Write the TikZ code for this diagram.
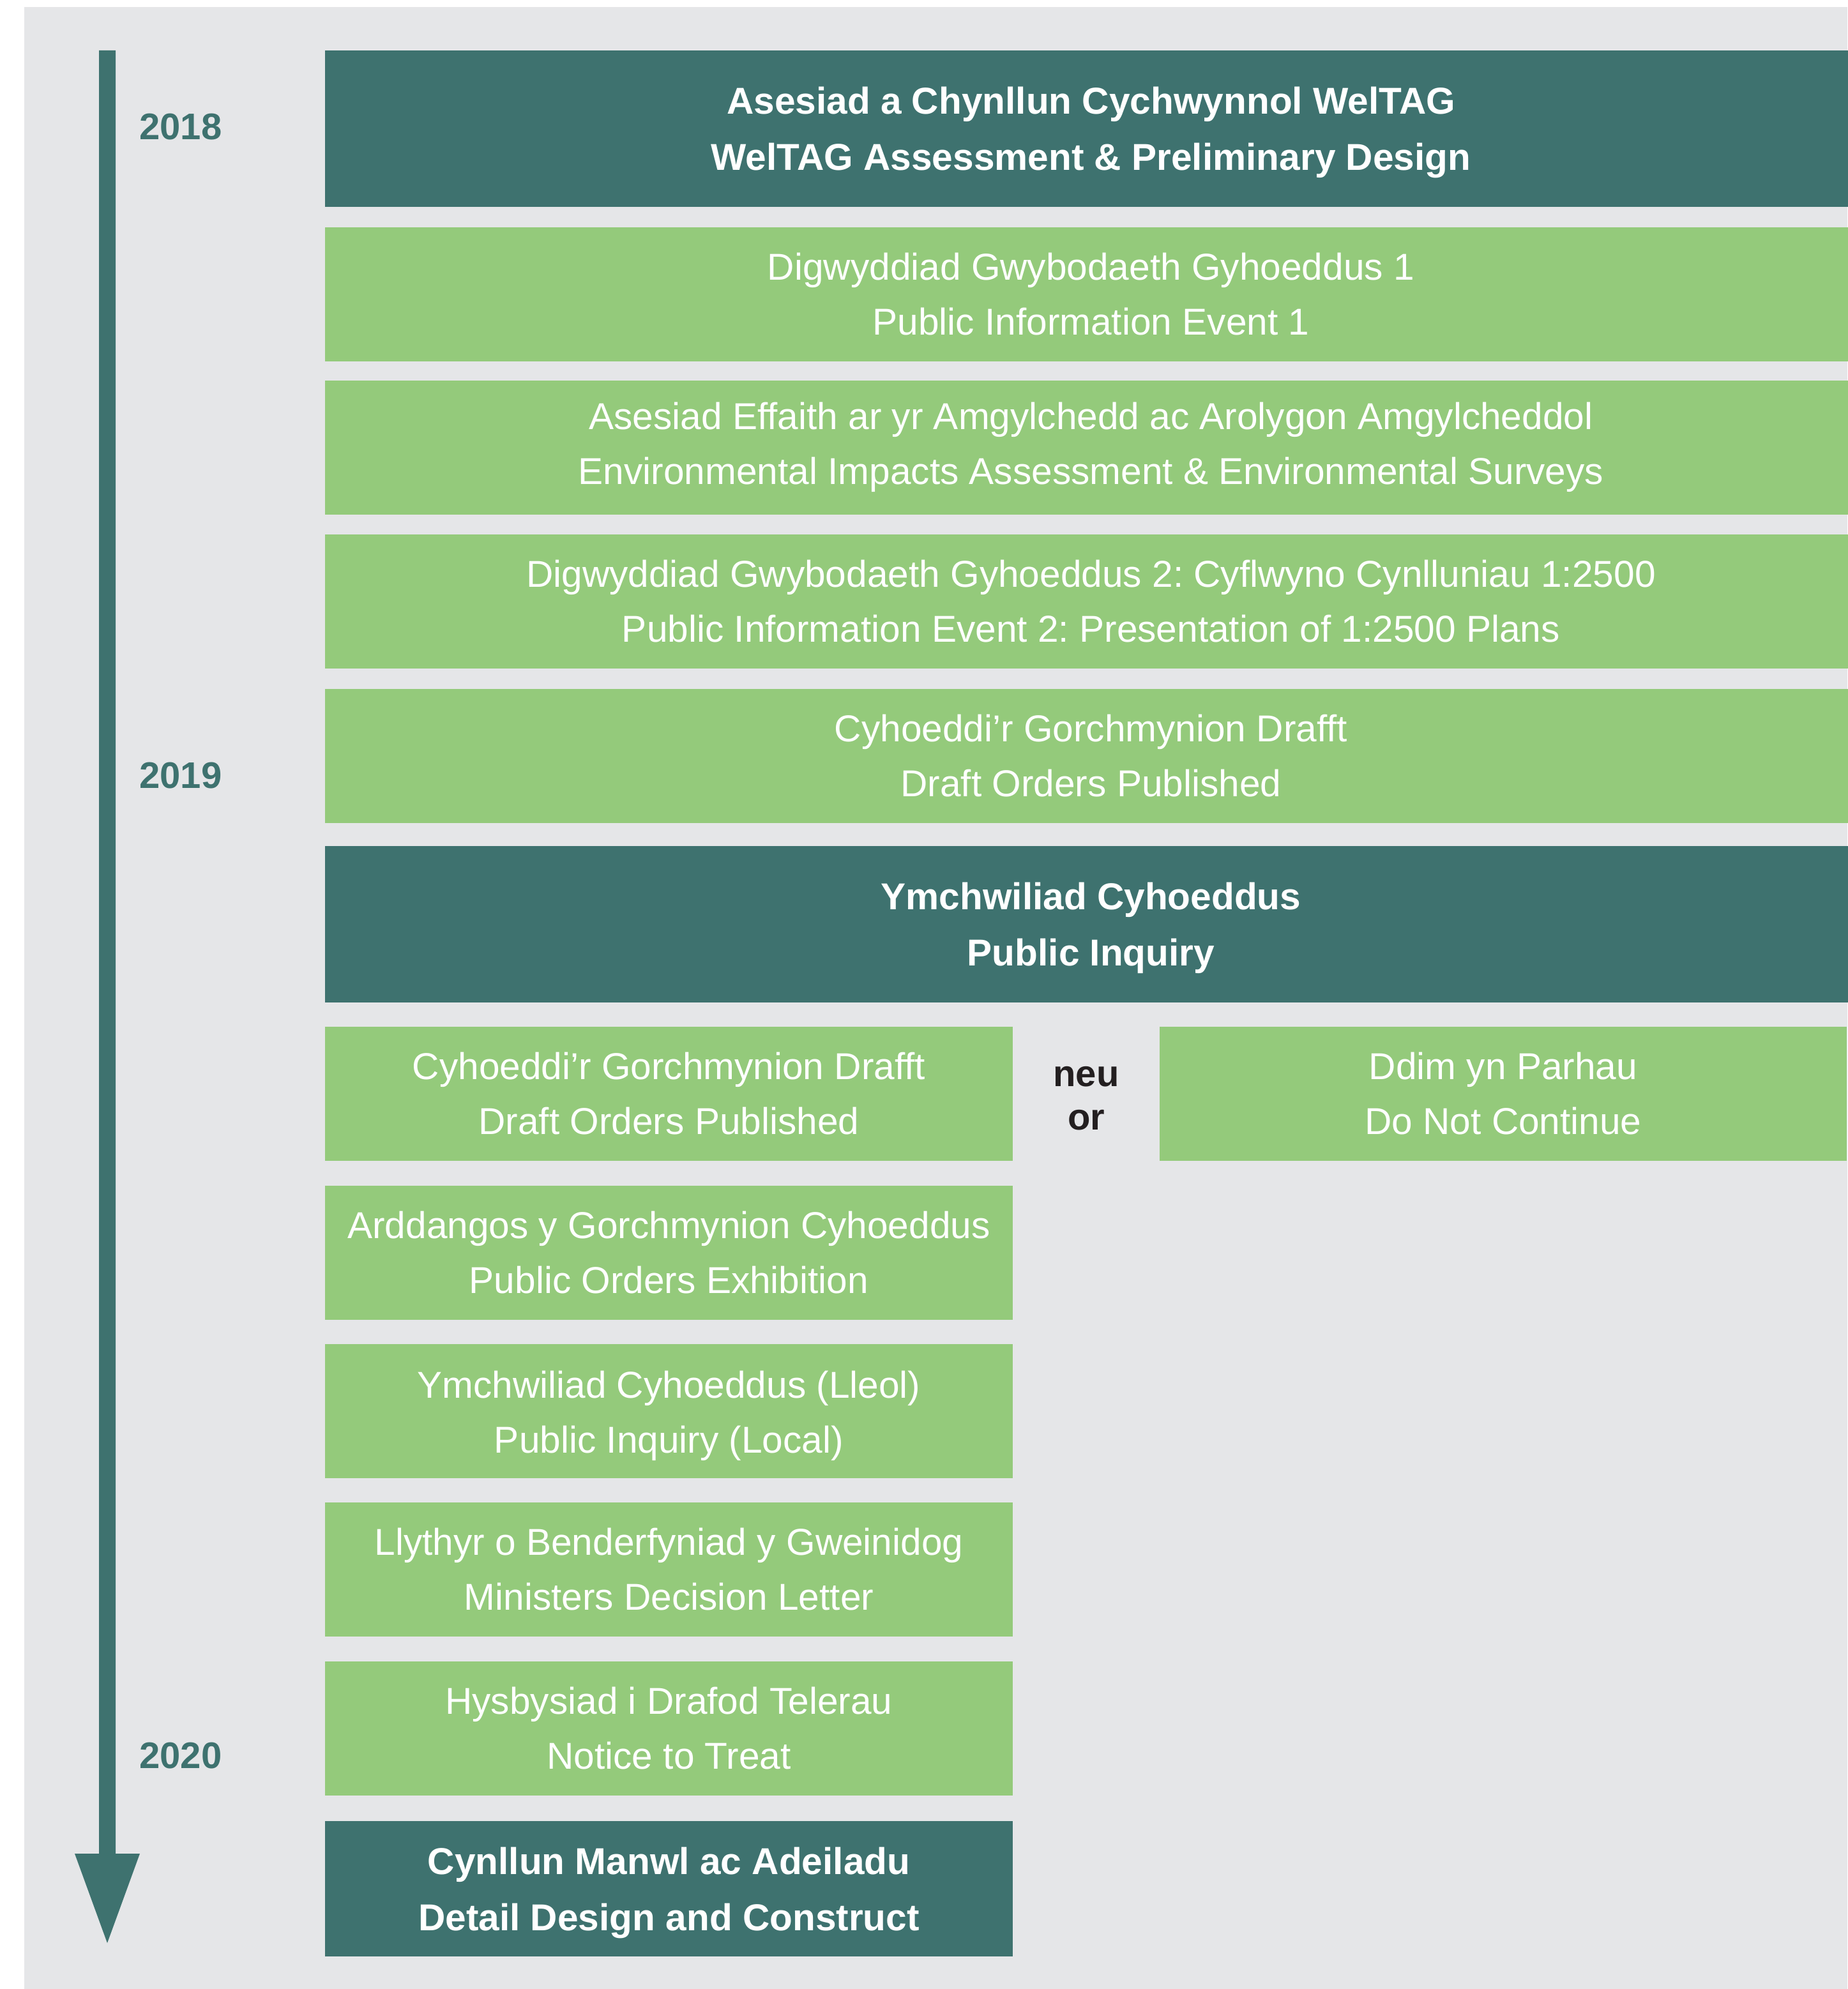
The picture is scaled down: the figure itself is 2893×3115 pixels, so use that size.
\documentclass[tikz,border=0pt]{standalone}
\usepackage{fontspec}
\setmainfont{Liberation Sans}
\frenchspacing
\definecolor{cdark}{RGB}{62,114,111}
\definecolor{cgreen}{RGB}{148,202,123}
\definecolor{cbg}{RGB}{229,230,232}
\definecolor{cblack}{RGB}{35,31,32}
\newcommand{\dstrut}{\rule{0pt}{13.7pt}}
\newcommand{\gstrut}{\rule{0pt}{14.5pt}}
\tikzset{
  stagebox/.style={rectangle, inner sep=0pt, align=center, text=white,
    font=\fontsize{14.65}{21.5}\selectfont},
  darkstage/.style={stagebox, fill=cdark, font=\fontsize{14.65}{22}\selectfont\bfseries},
  greenstage/.style={stagebox, fill=cgreen},
  widebox/.style={minimum width=599.75pt},
  leftbox/.style={minimum width=269.25pt},
  rightbox/.style={minimum width=269pt},
  ghigh/.style={minimum height=52.5pt},
  dhigh/.style={minimum height=61.25pt},
  yearlabel/.style={text=cdark, font=\fontsize{14.5}{17}\selectfont\bfseries, inner sep=0pt},
  orlabel/.style={text=cblack, align=center, font=\fontsize{14.5}{17}\selectfont\bfseries, inner sep=0pt}
}
\begin{document}
\begin{tikzpicture}[x=0.25pt,y=-0.25pt]
\useasboundingbox (0,0) rectangle (2893,3115);
\fill[white] (0,0) rectangle (2893,3115);
\fill[cbg] (38,11) rectangle (2893,3115);
% timeline arrow
\coordinate (atop) at (168,79);
\coordinate (atip) at (168,3043);
\fill[cdark] (155,79) -- (181,79) -- (181,2903) -- (219,2903) -- (atip) -- (117,2903) -- (155,2903) -- cycle;
% years
\node[yearlabel] (y18) at (283,199) {2018};
\node[yearlabel] (y19) at (283,1215) {2019};
\node[yearlabel] (y20) at (283,2750) {2020};
% stages
\node[darkstage, widebox, dhigh] (b1) at (1708.5,201.5) {\dstrut Asesiad a Chynllun Cychwynnol WelTAG\\WelTAG Assessment \& Preliminary Design};
\node[greenstage, widebox, ghigh] (b2) at (1708.5,460.5) {Digwyddiad Gwybodaeth Gyhoeddus 1\\Public Information Event 1};
\node[greenstage, widebox, ghigh] (b3) at (1708.5,700.5) {Asesiad Effaith ar yr Amgylchedd ac Arolygon Amgylcheddol\\Environmental Impacts Assessment \& Environmental Surveys};
\node[greenstage, widebox, ghigh] (b4) at (1708.5,942) {Digwyddiad Gwybodaeth Gyhoeddus 2: Cyflwyno Cynlluniau 1:2500\\Public Information Event 2: Presentation of 1:2500 Plans};
\node[greenstage, widebox, ghigh] (b5) at (1708.5,1183.5) {Cyhoeddi’r Gorchmynion Drafft\\Draft Orders Published};
\node[darkstage, widebox, dhigh] (b6) at (1708.5,1447.5) {\dstrut Ymchwiliad Cyhoeddus\\Public Inquiry};
\node[greenstage, leftbox, ghigh] (b7) at (1047.5,1713) {Cyhoeddi’r Gorchmynion Drafft\\Draft Orders Published};
\node[orlabel] (or) at (1701,1720) {neu\\or};
\node[greenstage, rightbox, ghigh] (b7r) at (2354,1713) {Ddim yn Parhau\\Do Not Continue};
\node[greenstage, leftbox, ghigh] (b8) at (1047.5,1961.5) {Arddangos y Gorchmynion Cyhoeddus\\Public Orders Exhibition};
\node[greenstage, leftbox, ghigh] (b9) at (1047.5,2209.5) {\gstrut Ymchwiliad Cyhoeddus (Lleol)\\Public Inquiry (Local)};
\node[greenstage, leftbox, ghigh] (b10) at (1047.5,2458) {Llythyr o Benderfyniad y Gweinidog\\Ministers Decision Letter};
\node[greenstage, leftbox, ghigh] (b11) at (1047.5,2706.5) {Hysbysiad i Drafod Telerau\\Notice to Treat};
\node[darkstage, leftbox, minimum height=53pt] (b12) at (1047.5,2958) {\dstrut Cynllun Manwl ac Adeiladu\\Detail Design and Construct};
\end{tikzpicture}
\end{document}
